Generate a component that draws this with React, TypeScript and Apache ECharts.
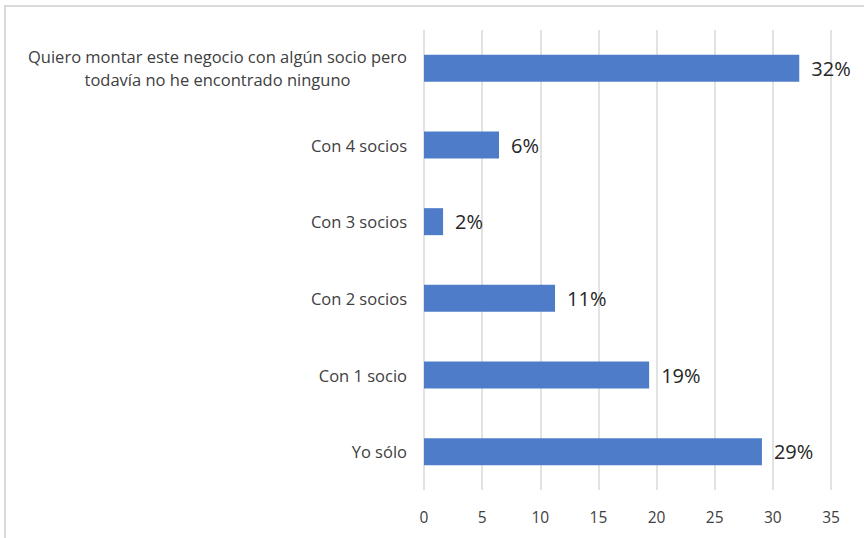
import React, { useEffect, useRef } from "react";
import * as echarts from "echarts";

const categories = [
  "Yo sólo",
  "Con 1 socio",
  "Con 2 socios",
  "Con 3 socios",
  "Con 4 socios",
  "Quiero montar este negocio con algún socio pero\ntodavía no he encontrado ninguno",
];
const values = [29.06, 19.36, 11.27, 1.64, 6.45, 32.27];
const xMin = 0;
const xMax = 35;
const xInterval = 5;

const FONT = "'Open Sans', 'Noto Sans', sans-serif";

export default function App() {
  const ref = useRef<HTMLDivElement>(null);
  useEffect(() => {
    document.body.style.margin = "0";
    const chart = echarts.init(ref.current!, null, { renderer: "svg" });
    chart.setOption({
      animation: false,
      backgroundColor: "#ffffff",
      graphic: [
        {
          type: "rect",
          shape: { x: 5, y: 6, width: 880, height: 560 },
          style: { fill: "none", stroke: "#d9d9d9", lineWidth: 2 },
          silent: true,
        },
      ],
      grid: { left: 424, right: 33, top: 30, bottom: 48, containLabel: false },
      xAxis: {
        type: "value",
        min: xMin,
        max: xMax,
        interval: xInterval,
        axisLine: { show: false },
        axisTick: { show: false },
        splitLine: { show: true, lineStyle: { color: "#d9d9d9", width: 1.5 } },
        axisLabel: {
          color: "#404040",
          fontSize: 15.5,
          fontFamily: FONT,
          margin: 19,
        },
      },
      yAxis: {
        type: "category",
        data: categories,
        axisLine: { show: false },
        axisTick: { show: false },
        axisLabel: {
          margin: 17,
          color: "#404040",
          fontSize: 16.5,
          fontFamily: FONT,
          lineHeight: 23,
          formatter: (v: string) => "{c|" + v + "}",
          rich: {
            c: {
              align: "center",
              color: "#404040",
              fontSize: 16.5,
              fontFamily: FONT,
              lineHeight: 23,
            },
          },
        },
      },
      series: [
        {
          type: "bar",
          data: values,
          barWidth: 27,
          itemStyle: { color: "#4F7CC9" },
          label: {
            show: true,
            position: "right",
            distance: 12,
            color: "#262626",
            fontSize: 20,
            fontFamily: FONT,
            formatter: (p: any) => Math.round(p.value) + "%",
          },
        },
      ],
    });
    return () => chart.dispose();
  }, []);
  return <div ref={ref} style={{ width: 864, height: 538 }} />;
}
